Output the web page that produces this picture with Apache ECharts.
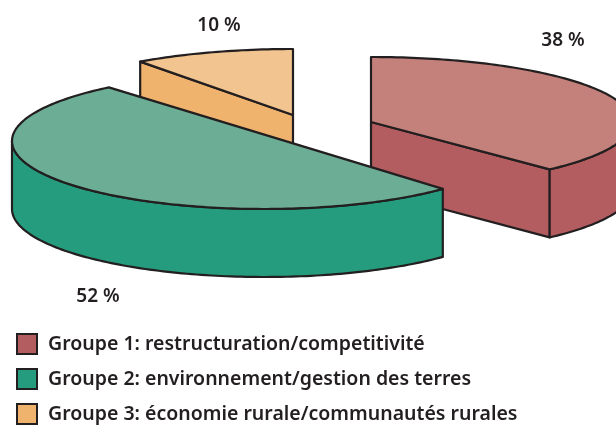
<!DOCTYPE html>
<html><head><meta charset="utf-8">
<style>html,body{margin:0;padding:0;background:#fff}#c{width:616px;height:426px}</style>
<script src="https://cdn.jsdelivr.net/npm/echarts@6/dist/echarts.min.js"></script>
</head><body><div id="c"></div>
<script>
const categories = ['Groupe 1: restructuration/competitivité','Groupe 2: environnement/gestion des terres','Groupe 3: économie rurale/communautés rurales'];
const values = [38, 52, 10];
const valueLabels = ['38 %', '52 %', '10 %'];

const topColors = ['#c4807b', '#6bad95', '#f2c590'];
const sideColors = ['#b35d60', '#259c7d', '#f0b36e'];
const centers = [[371,122],[264,141],[293,115]];
const radiiX = [261,252,260];
const radiiY = [65,68,66];
const turn = [0,-2,0];
const labelAnchors = [[563,41],[98,297],[219,26]];
const drawOrder = [0, 2, 1];
const DEPTH = 68, STROKE = '#231f20';

const total = values.reduce((a,b)=>a+b,0);
function renderSlice(i){
  return function(params, api){
    let before = 0; for(let k=0;k<i;k++) before += values[k];
    const off = turn[i]*Math.PI/180;
    const sweep = api.value(0)/total*2*Math.PI;
    const t0 = before/total*2*Math.PI+off, t1 = t0 + sweep;
    const [cx,cy] = centers[i], RX=radiiX[i], RY=radiiY[i];
    const P = (t,d)=>[cx+RX*Math.sin(t), cy-RY*Math.cos(t)+(d||0)];
    const arc = (a,b,d)=>{const n=Math.max(2,Math.ceil(Math.abs(b-a)/0.02)),o=[];for(let j=0;j<=n;j++)o.push(P(a+(b-a)*j/n,d));return o;};
    const face=(pts,fill)=>({type:'polygon',shape:{points:pts},style:{fill,stroke:STROKE,lineWidth:2.2,lineJoin:'round'}});
    const kids=[];
    [[t0,Math.sin(t0)<-1e-6],[t1,Math.sin(t1)>1e-6]].forEach(([t,vis])=>{
      if(vis) kids.push(face([[cx,cy],P(t),P(t,DEPTH),[cx,cy+DEPTH]],sideColors[i]));
    });
    const a=Math.max(t0,Math.PI/2), b=Math.min(t1,1.5*Math.PI);
    if(b>a) kids.push(face(arc(a,b,0).concat(arc(b,a,DEPTH)),sideColors[i]));
    // the large slice closes with one straight edge, as in the drawing
    kids.push(face((sweep>Math.PI?[]:[[cx,cy]]).concat(arc(t0,t1,0)),topColors[i]));
    kids.push({type:'text',style:{x:labelAnchors[i][0],y:labelAnchors[i][1],text:valueLabels[i],fill:'#231f20',
      font:'600 19px "Noto Sans"',textAlign:'center',textVerticalAlign:'middle'}});
    return {type:'group',children:kids};
  };
}
const chart = echarts.init(document.getElementById('c'),null,{renderer:'canvas'});
chart.setOption({
  animation:false,
  backgroundColor:'#fff',
  legend:{
    orient:'vertical',left:16,top:333,height:120,width:600,itemWidth:20,itemHeight:20,itemGap:13,padding:0,
    data:categories.map(n=>({name:n,icon:'rect'})),
    itemStyle:{borderColor:STROKE,borderWidth:2},
    textStyle:{fontFamily:'Noto Sans',fontWeight:600,fontSize:19.5,color:'#231f20',padding:[0,0,0,6]},
    selectedMode:false
  },
  series:categories.map((name,i)=>({
    type:'custom',name,coordinateSystem:'none',z:2+drawOrder.indexOf(i),
    itemStyle:{color:sideColors[i]},
    data:[[values[i]]],
    renderItem:renderSlice(i),silent:true
  }))
});
</script></body></html>
